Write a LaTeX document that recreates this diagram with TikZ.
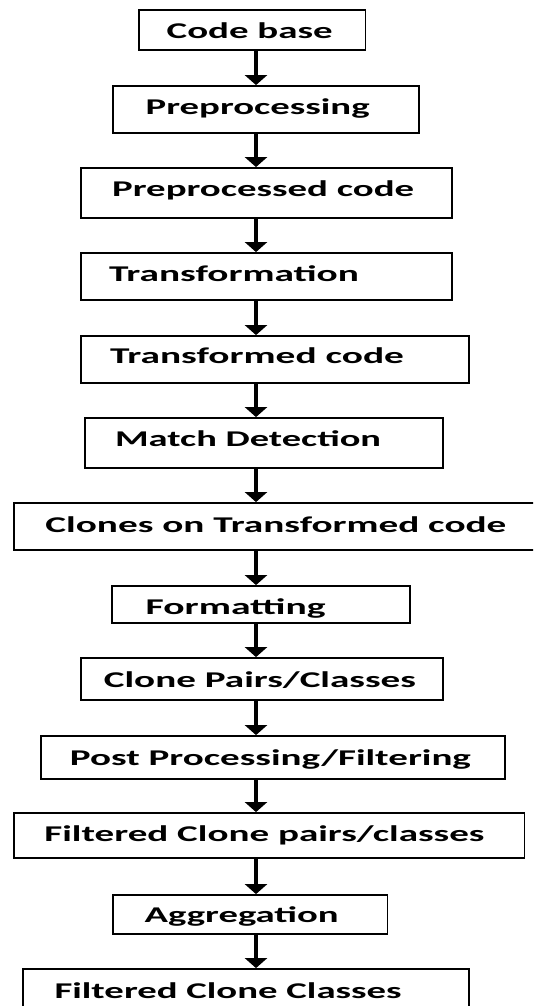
\documentclass[tikz,border=0pt]{standalone}
\usepackage{fontspec}
\usepackage{graphicx}
\setmainfont{Carlito}
\usetikzlibrary{arrows.meta}
\newcommand{\fitw}[2]{\resizebox{#1pt}{\height}{#2}}
\begin{document}
\begin{tikzpicture}[x=1pt,y=-1pt,
  box/.style={draw=black, line width=1.8pt, inner sep=0pt, rectangle},
  lbl/.style={inner sep=0pt, anchor=base west, font=\fontsize{22.5}{27}\selectfont\bfseries},
  arr/.style={line width=3.5pt, -{Triangle[width=22pt,length=10pt]}}]
\useasboundingbox (0,0) rectangle (533,1006);
\clip (0,0) rectangle (533,1006);
\coordinate (ax) at (256,0);
% boxes
\node[box, minimum width=226.7pt, minimum height=40pt] (b1) at (252.05,30) {};
\node[box, minimum width=306pt, minimum height=47pt] (b2) at (266,109.5) {};
\node[box, minimum width=371.4pt, minimum height=50pt] (b3) at (266.3,193) {};
\node[box, minimum width=371.4pt, minimum height=47pt] (b4) at (266.3,276.5) {};
\node[box, minimum width=388.4pt, minimum height=47pt] (b5) at (274.8,359.5) {};
\node[box, minimum width=358pt, minimum height=50pt] (b6) at (264,443) {};
\node[box, minimum width=531.4pt, minimum height=47pt] (b7) at (279.3,526.5) {};
\node[box, minimum width=297.6pt, minimum height=37pt] (b8) at (260.8,604.5) {};
\node[box, minimum width=362.4pt, minimum height=42pt] (b9) at (261.8,679) {};
\node[box, minimum width=464.2pt, minimum height=43pt] (b10) at (272.9,757.5) {};
\node[box, minimum width=510.9pt, minimum height=45pt] (b11) at (269.05,835.5) {};
\node[box, minimum width=274.5pt, minimum height=39pt] (b12) at (250.25,914.5) {};
\node[box, minimum width=446pt, minimum height=61pt] (b13) at (246,999.5) {};
% labels
\node[lbl] (t1) at (166.5,38.3) {\fitw{166}{Code base}};
\node[lbl] (t2) at (145.5,114.3) {\fitw{224}{Preprocessing}};
\node[lbl] (t3) at (112,196.7) {\fitw{302}{Preprocessed code}};
\node[lbl] (t4) at (108.8,281.7) {\fitw{250}{Transformation}};
\node[lbl] (t5) at (109.8,363.3) {\fitw{294}{Transformed code}};
\node[lbl] (t6) at (114.9,446.7) {\fitw{266}{Match Detection}};
\node[lbl] (t7) at (45.2,532.7) {\fitw{461}{Clones on Transformed code}};
\node[lbl] (t8) at (145.5,614.3) {\fitw{180}{Formatting}};
\node[lbl] (t9) at (103.7,687.7) {\fitw{312}{Clone Pairs/Classes}};
\node[lbl] (t10) at (69.7,765) {\fitw{401}{Post Processing/Filtering}};
\node[lbl] (t11) at (44.2,841) {\fitw{440}{Filtered Clone pairs/classes}};
\node[lbl] (t12) at (144.5,922.7) {\fitw{194}{Aggregation}};
\node[lbl] (t13) at (54.4,998.3) {\fitw{347}{Filtered Clone Classes}};
% arrows
\foreach \a/\b in {b1/b2,b2/b3,b3/b4,b4/b5,b5/b6,b6/b7,b7/b8,b8/b9,b9/b10,b10/b11,b11/b12,b12/b13}
  \draw[arr] (\a.south -| ax) -- (\b.north -| ax);
\end{tikzpicture}
\end{document}
